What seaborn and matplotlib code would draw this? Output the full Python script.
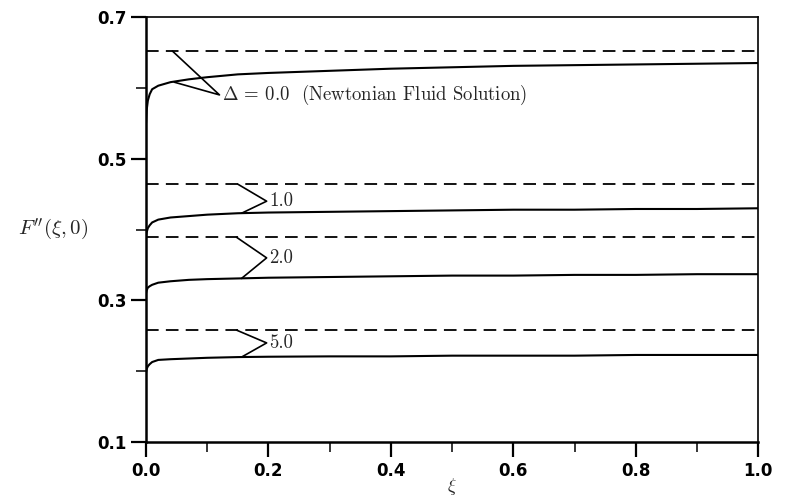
import numpy as np
import pandas as pd
import matplotlib
matplotlib.use("Agg")
import matplotlib.pyplot as plt
import seaborn as sns
from matplotlib.ticker import MultipleLocator

# ---- data ----
xi = [0.0, 0.001, 0.003, 0.006, 0.01, 0.02, 0.04, 0.07, 0.1, 0.15, 0.2, 0.3,
      0.4, 0.5, 0.6, 0.7, 0.8, 0.9, 1.0]
f_d0 = [0.55, 0.568, 0.582, 0.591, 0.598, 0.603, 0.608, 0.612, 0.615, 0.619,
        0.621, 0.624, 0.627, 0.629, 0.631, 0.632, 0.633, 0.634, 0.635]
f_d1 = [0.39, 0.396, 0.402, 0.406, 0.410, 0.414, 0.417, 0.419, 0.421, 0.423,
        0.424, 0.425, 0.426, 0.427, 0.428, 0.428, 0.429, 0.429, 0.430]
f_d2 = [0.31, 0.314, 0.318, 0.320, 0.322, 0.325, 0.327, 0.329, 0.330, 0.331,
        0.332, 0.333, 0.334, 0.335, 0.335, 0.336, 0.336, 0.337, 0.337]
f_d5 = [0.198, 0.203, 0.207, 0.210, 0.213, 0.216, 0.217, 0.218, 0.219, 0.220,
        0.2205, 0.221, 0.221, 0.222, 0.222, 0.222, 0.223, 0.223, 0.223]
deltas = ["0.0", "1.0", "2.0", "5.0"]
asymptotes = [0.652, 0.464, 0.389, 0.258]
curve_labels = [r"$\Delta$ = 0.0  (Newtonian Fluid Solution)", "1.0", "2.0", "5.0"]
xticks = [0.0, 0.2, 0.4, 0.6, 0.8, 1.0]
yticks = [0.1, 0.3, 0.5, 0.7]

sns.set_theme(style="ticks")
plt.rcParams["mathtext.fontset"] = "cm"
plt.rcParams["font.family"] = ["DejaVu Sans"]

df = pd.DataFrame({"xi": xi * 4,
                   "F": f_d0 + f_d1 + f_d2 + f_d5,
                   "Delta": sum([[d] * len(xi) for d in deltas], [])})
dfa = pd.DataFrame({"xi": [0.0, 1.0] * 4,
                    "F": sum([[a, a] for a in asymptotes], []),
                    "Delta": sum([[d, d] for d in deltas], [])})

fig = plt.figure(figsize=(7.85, 4.99), dpi=100)
ax = fig.add_axes([0.186, 0.114, 0.780, 0.852])

sns.lineplot(data=df, x="xi", y="F", units="Delta", estimator=None,
             color="black", linewidth=1.5, ax=ax, legend=False)
sns.lineplot(data=dfa, x="xi", y="F", units="Delta", estimator=None,
             color="black", linewidth=1.3, ax=ax, legend=False)
for ln in ax.lines[-4:]:
    ln.set_dashes((7, 4))

ax.set_xlim(0, 1)
ax.set_ylim(0.1, 0.7)
ax.set_xticks(xticks)
ax.set_xticklabels([f"{t:.1f}" for t in xticks])
ax.set_yticks(yticks)
ax.set_yticklabels([f"{t:.1f}" for t in yticks])
ax.xaxis.set_minor_locator(MultipleLocator(0.1))
ax.yaxis.set_minor_locator(MultipleLocator(0.1))
ax.tick_params(which="major", direction="out", length=11, width=1.6,
               labelsize=12, colors="black", pad=3)
ax.tick_params(which="minor", direction="out", length=7, width=1.3)
for lab in ax.get_xticklabels() + ax.get_yticklabels():
    lab.set_fontweight("bold")

for side in ["left", "bottom"]:
    ax.spines[side].set_linewidth(1.8)
for side in ["top", "right"]:
    ax.spines[side].set_linewidth(1.2)
for s in ax.spines.values():
    s.set_color("black")

ax.set_xlabel(r"$\xi$", fontsize=13, va="center")
ax.xaxis.set_label_coords(0.5, -0.105)
ax.set_ylabel(r"$F''(\xi,0)$", fontsize=15, rotation=0, labelpad=32,
              va="center")

# annotations: (tip x, tip y, upper end x, lower end x, lower end y)
tips = [(0.12, 0.59, 0.043, 0.046, 0.608),
        (0.197, 0.44, 0.150, 0.156, 0.423),
        (0.197, 0.36, 0.148, 0.156, 0.331),
        (0.197, 0.24, 0.148, 0.156, 0.220)]
for (tx, ty, ux, lx, ly), a, lab in zip(tips, asymptotes, curve_labels):
    ax.plot([ux, tx, lx], [a, ty, ly], color="black", linewidth=1.2)
    ax.text(tx + 0.004, ty, lab, fontsize=13.5, family="cmr10",
            va="center", ha="left")

fig.savefig("out.png", dpi=100)
